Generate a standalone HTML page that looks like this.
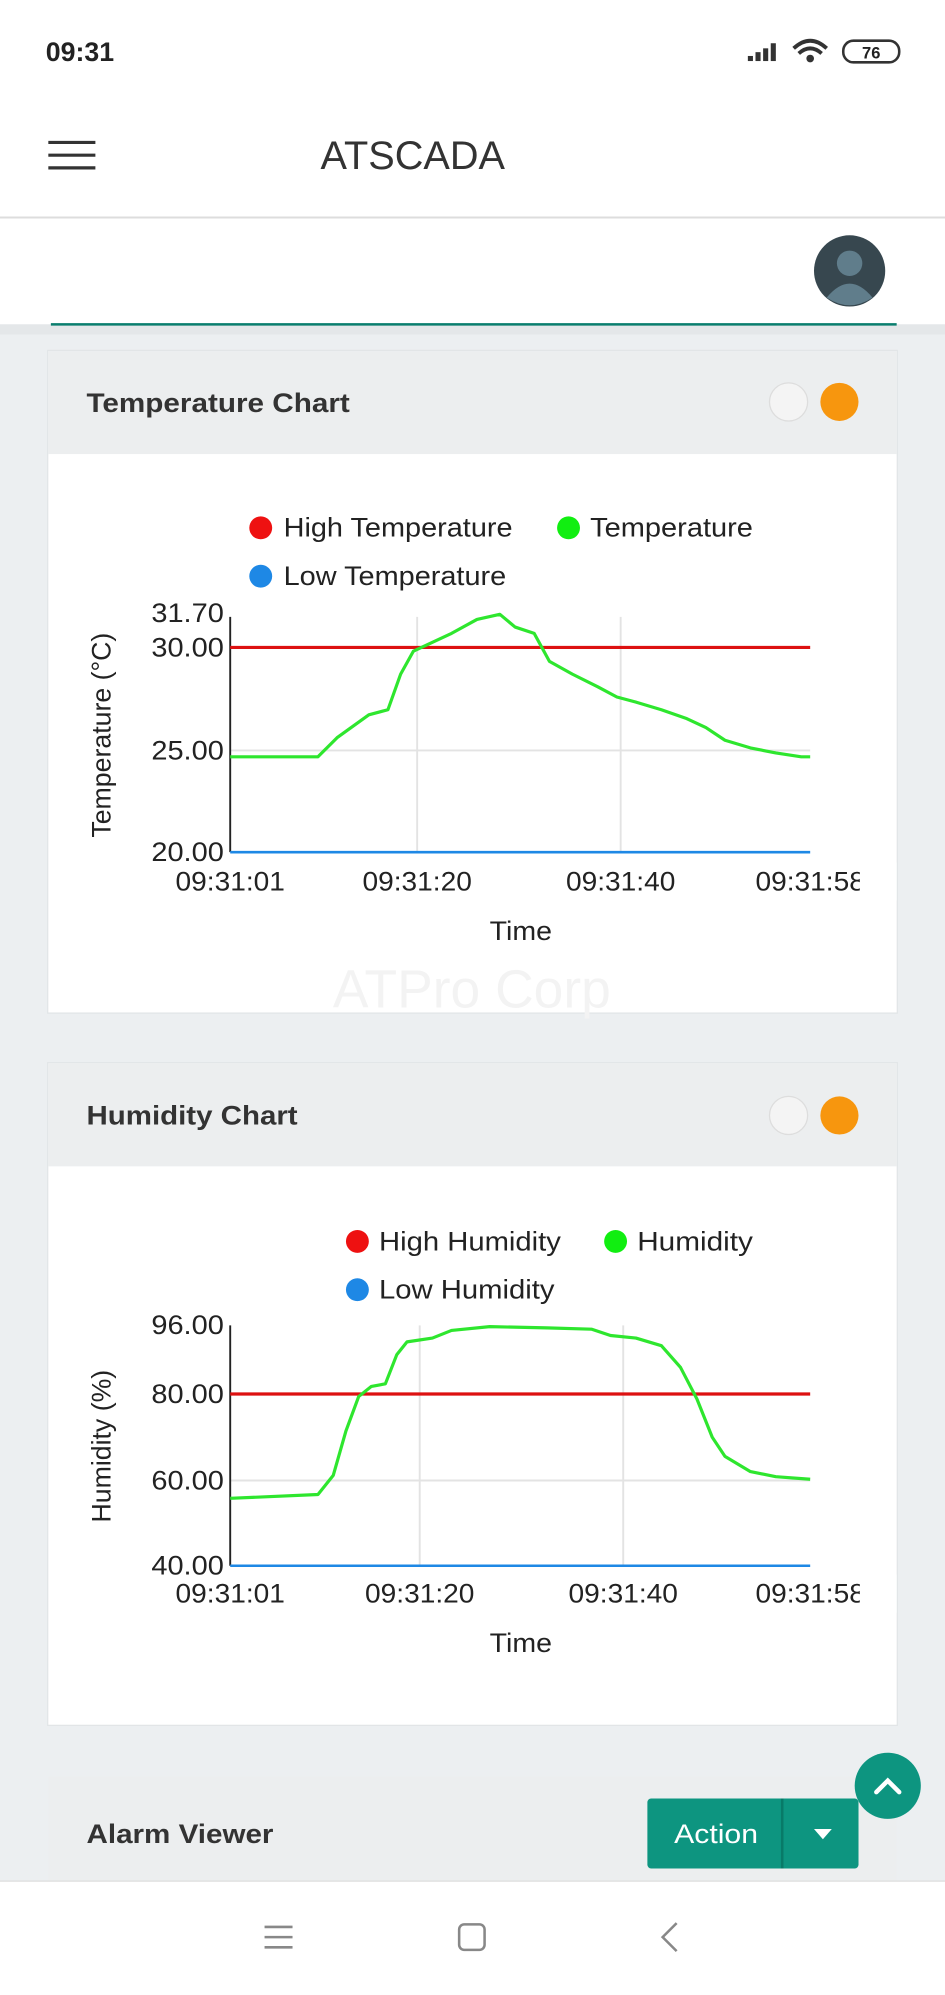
<!DOCTYPE html>
<html><head><meta charset="utf-8"><style>
html,body{margin:0;padding:0;width:945px;height:1995px;overflow:hidden;background:#eceff1}
svg{display:block}
text{font-family:"Liberation Sans",sans-serif}
</style></head><body>
<svg width="945" height="1995" viewBox="0 0 743 1568.5" preserveAspectRatio="none" xmlns="http://www.w3.org/2000/svg">
<rect x="0" y="0" width="743" height="1568.5" fill="#eceff1"/>
<!-- status + header -->
<rect x="0" y="0" width="743" height="255" fill="#fff"/>
<text x="36" y="48" font-size="21" font-weight="bold" fill="#222">09:31</text>
<g fill="#333"><rect x="588" y="44" width="4" height="4"/><rect x="594" y="41" width="4" height="7"/><rect x="600" y="38" width="4" height="10"/><rect x="606" y="34" width="4" height="14"/></g>
<path d="M624 38 Q637 26 650 38 M628 42 Q637 34 646 42" stroke="#333" stroke-width="3" fill="none"/><circle cx="637" cy="46" r="3" fill="#333"/>
<rect x="663" y="32" width="44" height="17" rx="8" fill="none" stroke="#333" stroke-width="2"/>
<text x="685" y="46" font-size="13" font-weight="bold" text-anchor="middle" fill="#222">76</text>
<g stroke="#333" stroke-width="2.5"><line x1="38" y1="112" x2="75" y2="112"/><line x1="38" y1="122" x2="75" y2="122"/><line x1="38" y1="132" x2="75" y2="132"/></g>
<text x="252" y="133" font-size="31" fill="#333" font-weight="300" textLength="145" lengthAdjust="spacingAndGlyphs">ATSCADA</text>
<line x1="0" y1="171" x2="743" y2="171" stroke="#ddd" stroke-width="1.5"/>
<circle cx="668" cy="213" r="28" fill="#37474f"/>
<circle cx="668" cy="207" r="10" fill="#607d8b"/>
<path d="M650 234 Q668 212 686 234 Q668 246 650 234Z" fill="#607d8b"/>
<rect x="0" y="255" width="743" height="8" fill="#e4e7e9"/>
<line x1="40" y1="255" x2="705" y2="255" stroke="#0a7e6e" stroke-width="2"/>

<!-- Card 1 -->
<rect x="37" y="275" width="669" height="522" fill="#e2e5e7"/>
<rect x="38" y="276" width="667" height="520" fill="#fff"/>
<rect x="38" y="276" width="667" height="81" fill="#eceeef"/>
<text x="68" y="324" font-size="21" font-weight="bold" fill="#333" textLength="207" lengthAdjust="spacingAndGlyphs">Temperature Chart</text>
<circle cx="620" cy="316" r="15" fill="#f4f4f4" stroke="#ddd"/>
<circle cx="660" cy="316" r="15" fill="#f7960e"/>
<g font-size="21" fill="#222">
<circle cx="205" cy="415" r="9" fill="#e11"/><text x="223" y="422" textLength="180" lengthAdjust="spacingAndGlyphs">High Temperature</text>
<circle cx="447" cy="415" r="9" fill="#1e1"/><text x="464" y="422" textLength="128" lengthAdjust="spacingAndGlyphs">Temperature</text>
<circle cx="205" cy="453" r="9" fill="#1e88e5"/><text x="223" y="460" textLength="175" lengthAdjust="spacingAndGlyphs">Low Temperature</text>
</g>
<g stroke="#e3e3e3" stroke-width="1.5"><line x1="328" y1="485" x2="328" y2="670"/><line x1="488" y1="485" x2="488" y2="670"/><line x1="181" y1="590" x2="637" y2="590"/></g>
<line x1="181" y1="485" x2="181" y2="670" stroke="#222" stroke-width="1.5"/>
<g font-size="21" fill="#222" text-anchor="end"><text x="176" y="489" textLength="57" lengthAdjust="spacingAndGlyphs">31.70</text><text x="176" y="516" textLength="57" lengthAdjust="spacingAndGlyphs">30.00</text><text x="176" y="597" textLength="57" lengthAdjust="spacingAndGlyphs">25.00</text><text x="176" y="677" textLength="57" lengthAdjust="spacingAndGlyphs">20.00</text></g>
<g font-size="21" fill="#222"><text x="138" y="700" textLength="86" lengthAdjust="spacingAndGlyphs">09:31:01</text><text x="285" y="700" textLength="86" lengthAdjust="spacingAndGlyphs">09:31:20</text><text x="445" y="700" textLength="86" lengthAdjust="spacingAndGlyphs">09:31:40</text><text x="594" y="700" textLength="86" lengthAdjust="spacingAndGlyphs">09:31:58</text></g>
<rect x="676" y="678" width="29" height="30" fill="#fff"/>
<text x="385" y="739" font-size="21" fill="#222" textLength="49" lengthAdjust="spacingAndGlyphs">Time</text>
<text transform="translate(87,578) rotate(-90)" font-size="21" fill="#222" text-anchor="middle">Temperature (°C)</text>
<line x1="181" y1="509" x2="637" y2="509" stroke="#d11" stroke-width="2.5"/>
<line x1="181" y1="670" x2="637" y2="670" stroke="#1e88e5" stroke-width="2"/>
<polyline fill="none" stroke="#2ee62e" stroke-width="2.5" stroke-linejoin="round" points="181,595 250,595 265,580 290,562 305,558 315,530 325,512 340,505 355,498 375,487 393,483 405,493 420,498 432,520 450,530 470,540 485,548 500,552 520,558 540,565 555,572 570,582 590,588 610,592 630,595 637,595"/>
<text x="371" y="792" font-size="42" fill="#f3f3f3" text-anchor="middle">ATPro Corp</text>

<!-- Card 2 -->
<rect x="37" y="835" width="669" height="522" fill="#e2e5e7"/>
<rect x="38" y="836" width="667" height="520" fill="#fff"/>
<rect x="38" y="836" width="667" height="81" fill="#eceeef"/>
<text x="68" y="884" font-size="21" font-weight="bold" fill="#333" textLength="166" lengthAdjust="spacingAndGlyphs">Humidity Chart</text>
<circle cx="620" cy="877" r="15" fill="#f4f4f4" stroke="#ddd"/>
<circle cx="660" cy="877" r="15" fill="#f7960e"/>
<g font-size="21" fill="#222">
<circle cx="281" cy="976" r="9" fill="#e11"/><text x="298" y="983" textLength="143" lengthAdjust="spacingAndGlyphs">High Humidity</text>
<circle cx="484" cy="976" r="9" fill="#1e1"/><text x="501" y="983" textLength="91" lengthAdjust="spacingAndGlyphs">Humidity</text>
<circle cx="281" cy="1014" r="9" fill="#1e88e5"/><text x="298" y="1021" textLength="138" lengthAdjust="spacingAndGlyphs">Low Humidity</text>
</g>
<g stroke="#e3e3e3" stroke-width="1.5"><line x1="330" y1="1042" x2="330" y2="1231"/><line x1="490" y1="1042" x2="490" y2="1231"/><line x1="181" y1="1164" x2="637" y2="1164"/></g>
<line x1="181" y1="1042" x2="181" y2="1231" stroke="#222" stroke-width="1.5"/>
<g font-size="21" fill="#222" text-anchor="end"><text x="176" y="1049" textLength="57" lengthAdjust="spacingAndGlyphs">96.00</text><text x="176" y="1103" textLength="57" lengthAdjust="spacingAndGlyphs">80.00</text><text x="176" y="1171" textLength="57" lengthAdjust="spacingAndGlyphs">60.00</text><text x="176" y="1238" textLength="57" lengthAdjust="spacingAndGlyphs">40.00</text></g>
<g font-size="21" fill="#222"><text x="138" y="1260" textLength="86" lengthAdjust="spacingAndGlyphs">09:31:01</text><text x="287" y="1260" textLength="86" lengthAdjust="spacingAndGlyphs">09:31:20</text><text x="447" y="1260" textLength="86" lengthAdjust="spacingAndGlyphs">09:31:40</text><text x="594" y="1260" textLength="86" lengthAdjust="spacingAndGlyphs">09:31:58</text></g>
<rect x="676" y="1238" width="29" height="30" fill="#fff"/>
<text x="385" y="1299" font-size="21" fill="#222" textLength="49" lengthAdjust="spacingAndGlyphs">Time</text>
<text transform="translate(87,1137) rotate(-90)" font-size="21" fill="#222" text-anchor="middle">Humidity (%)</text>
<line x1="181" y1="1096" x2="637" y2="1096" stroke="#d11" stroke-width="2.5"/>
<line x1="181" y1="1231" x2="637" y2="1231" stroke="#1e88e5" stroke-width="2"/>
<polyline fill="none" stroke="#2ee62e" stroke-width="2.5" stroke-linejoin="round" points="181,1178 250,1175 262,1160 272,1125 282,1098 292,1090 303,1088 312,1065 320,1055 340,1052 355,1046 385,1043 430,1044 465,1045 480,1050 500,1052 520,1058 535,1075 548,1100 560,1130 570,1145 590,1157 610,1161 637,1163"/>

<!-- Card 3 -->
<rect x="38" y="1397" width="667" height="90" fill="#eceeef"/>
<text x="68" y="1449" font-size="21" font-weight="bold" fill="#333" textLength="147" lengthAdjust="spacingAndGlyphs">Alarm Viewer</text>
<rect x="509" y="1414" width="166" height="55" rx="3" fill="#0d9580"/>
<line x1="615" y1="1414" x2="615" y2="1469" stroke="#087a68" stroke-width="2"/>
<text x="530" y="1449" font-size="21" fill="#fff" textLength="66" lengthAdjust="spacingAndGlyphs">Action</text>
<path d="M640 1438 L654 1438 L647 1446Z" fill="#fff"/>
<circle cx="698" cy="1404" r="26" fill="#0d9580"/>
<path d="M689 1409 L698 1400 L707 1409" stroke="#fff" stroke-width="3.5" fill="none" stroke-linecap="round"/>

<!-- bottom nav -->
<rect x="0" y="1479" width="743" height="90" fill="#fff"/>
<line x1="0" y1="1479" x2="743" y2="1479" stroke="#ddd"/>
<g stroke="#888" stroke-width="2" fill="none"><line x1="208" y1="1515" x2="230" y2="1515"/><line x1="208" y1="1523" x2="230" y2="1523"/><line x1="208" y1="1531" x2="230" y2="1531"/>
<rect x="361" y="1513" width="20" height="20" rx="4"/>
<path d="M532 1512 L521 1523 L532 1534"/></g>
</svg>
</body></html>
